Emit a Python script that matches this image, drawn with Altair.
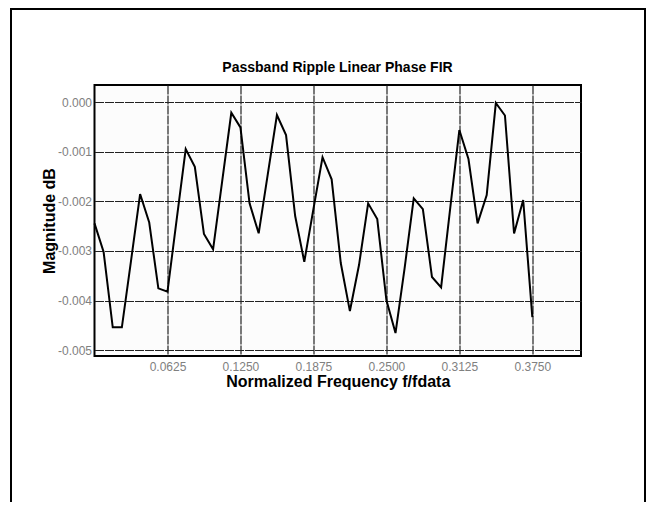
import altair as alt
import pandas as pd

# Normalized frequency f/fdata
freq = [0, 0.0078125, 0.015625, 0.0234375, 0.03125, 0.0390625, 0.046875, 0.0546875,
        0.0625, 0.0703125, 0.078125, 0.0859375, 0.09375, 0.1015625, 0.109375, 0.1171875,
        0.125, 0.1328125, 0.140625, 0.1484375, 0.15625, 0.1640625, 0.171875, 0.1796875,
        0.1875, 0.1953125, 0.203125, 0.2109375, 0.21875, 0.2265625, 0.234375, 0.2421875,
        0.25, 0.2578125, 0.265625, 0.2734375, 0.28125, 0.2890625, 0.296875, 0.3046875,
        0.3125, 0.3203125, 0.328125, 0.3359375, 0.34375, 0.3515625, 0.359375, 0.3671875,
        0.375]

# Magnitude in dB
magnitude = [-0.002442, -0.003022, -0.004542, -0.004542, -0.003203, -0.001851, -0.002426,
             -0.003755, -0.003823, -0.002376, -0.000943, -0.001300, -0.002658, -0.002967,
             -0.001589, -0.000210, -0.000505, -0.002039, -0.002644, -0.001447, -0.000256,
             -0.000660, -0.002295, -0.003218, -0.002154, -0.001108, -0.001554, -0.003244,
             -0.004213, -0.003284, -0.002039, -0.002356, -0.003991, -0.004657, -0.003345,
             -0.001938, -0.002154, -0.003526, -0.003734, -0.002134, -0.000559, -0.001145,
             -0.002442, -0.001871, -0.000014, -0.000266, -0.002648, -0.001972, -0.004334]

x_ticks = [0.0625, 0.125, 0.1875, 0.25, 0.3125, 0.375]
y_ticks = [-0.005, -0.004, -0.003, -0.002, -0.001, 0.0]

chart_title = "Passband Ripple Linear Phase FIR"

df = pd.DataFrame({"f": freq, "mag": magnitude})

FONT = "Liberation Sans"
GRID = dict(grid=True, gridColor="#222", gridWidth=1.2, gridDash=[9, 1], gridOpacity=1,
            ticks=False, domain=False,
            labelFont=FONT, labelFontSize=12, labelColor="#808080",
            titleFont=FONT, titleFontSize=16, titleFontWeight="bold", titleColor="black")

line = alt.Chart(df).mark_line(color="black", strokeWidth=2).encode(
    x=alt.X("f:Q",
            scale=alt.Scale(domain=[0, 0.4167], nice=False, zero=False),
            axis=alt.Axis(values=x_ticks, format=".4f", title="Normalized Frequency f/fdata",
                          labelPadding=5, titlePadding=1, **GRID)),
    y=alt.Y("mag:Q",
            scale=alt.Scale(domain=[-0.00512, 0.00035], nice=False, zero=False),
            axis=alt.Axis(values=y_ticks, title="Magnitude dB",
                          labelExpr="replace(format(datum.value, '.3f'), '\u2212', '-')",
                          labelPadding=3, titlePadding=0, **GRID)),
)

frame = alt.Chart(alt.Data(values=[{"a": 1}])).mark_rect(
    filled=False, stroke="black", strokeWidth=2
).encode(
    x=alt.value(-83.5), x2=alt.value(550.5),
    y=alt.value(-76), y2=alt.value(600),
)

title = alt.Chart(alt.Data(values=[{"t": chart_title}])).mark_text(
    font=FONT, fontSize=14, fontWeight="bold", color="black", align="center", baseline="alphabetic"
).encode(
    x=alt.value(243), y=alt.value(-13), text="t:N"
)

chart = alt.layer(frame, line, title).properties(
    width=486.5,
    height=271,
    background="white",
    autosize=alt.AutoSizeParams(type="none"),
    padding={"left": 86.5, "top": 77, "right": 67, "bottom": 146},
).configure_view(
    stroke="black", strokeWidth=2, fill="#fcfcfc"
)

chart.save("out.html", embed_options={"renderer": "svg", "actions": False})
